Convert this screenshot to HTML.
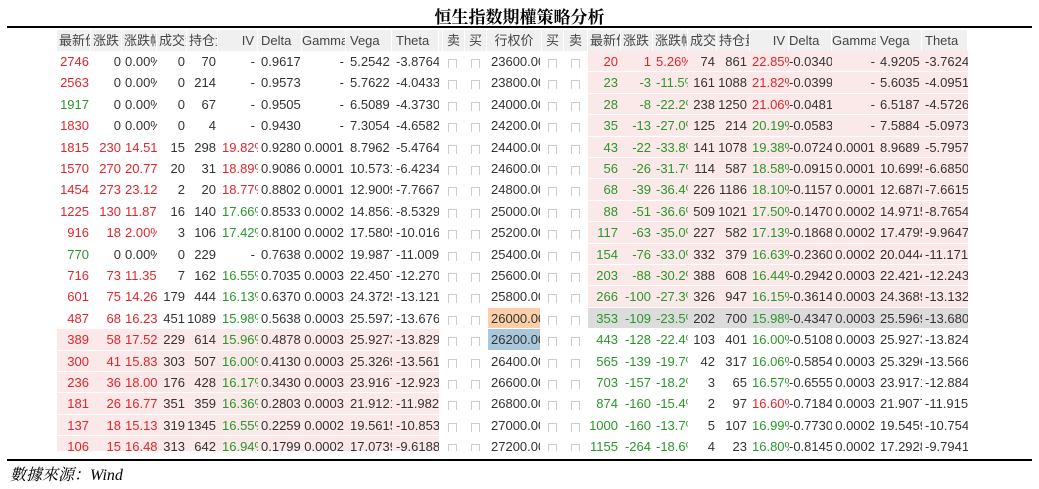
<!DOCTYPE html>
<html><head><meta charset="utf-8"><style>
body{margin:0;width:1039px;height:489px;background:#fff;position:relative;overflow:hidden;font-family:"Liberation Sans","Noto Sans CJK SC",sans-serif}
.t{position:absolute;left:0;width:1039px;top:3px;text-align:center;font-family:"Liberation Serif","Noto Serif CJK SC",serif;font-weight:bold;font-size:17px;color:#000}
.ln{position:absolute;left:7px;width:1025px;height:1.5px;background:#000}
#tb{position:absolute;left:0;top:0;width:1039px;height:451px;overflow:hidden}
.c{position:absolute;height:21.4px;line-height:21.4px;font-size:13px;white-space:nowrap;overflow:hidden;color:#333;box-sizing:border-box}
.h{position:absolute;top:30px;height:21px;line-height:21px;background:#f0f0f0;font-size:13px;color:#444;white-space:nowrap;overflow:hidden;box-sizing:border-box;border-right:1px solid #fff}
.cb{position:absolute;width:7px;height:8px;border:1px solid #ccc;border-bottom:none}
.bg{position:absolute;height:20.4px}
.ft{position:absolute;left:10px;top:462px;font-style:italic;font-size:16px;font-family:"Liberation Serif","Noto Serif CJK SC",serif;color:#000}
</style></head><body>
<div class="t">恒生指数期權策略分析</div>
<div class="ln" style="top:26px"></div>
<div id="tb"></div>
<div class="ln" style="top:459px"></div>
<div class="ft">數據來源：Wind</div>
<script>
var tb=document.getElementById('tb');
function el(cls,st,txt){var d=document.createElement('div');d.className=cls;d.style.cssText=st;if(txt!=null)d.textContent=txt;tb.appendChild(d);return d;}
var L=[[57,34,'r',2],[91,31,'r',1],[122,35,'l',3],[157,30,'r',2],[187,31,'r',2],[218,40,'l',4],[258,44,'l',3],[302,44,'r',2],[346,46,'l',4],[392,47,'l',4]];
var R=[[588,33,'r',3],[621,32,'r',2],[653,35,'l',3],[688,29,'r',2],[717,33,'r',3],[750,39,'l',2],[789,43,'l',0],[832,45,'r',2],[877,45,'l',3],[922,46,'l',3]];
var HL=['最新价','涨跌','涨跌幅','成交量','持仓量','IV','Delta','Gamma','Vega','Theta'];
function hdr(cols){cols.forEach(function(c,i){var a=c[2],p=c[3];if(i==5){a='r';p=3;}if(i<5){a='l';p=2;}
el('h','left:'+c[0]+'px;width:'+c[1]+'px;text-align:'+(a=='r'?'right':'left')+';padding-'+(a=='r'?'right':'left')+':'+p+'px',HL[i]);});}
hdr(L);hdr(R);
el('h','left:439px;width:4px');
el('h','left:443px;width:22px;text-align:center','卖');
el('h','left:465px;width:22px;text-align:center','买');
el('h','left:487px;width:55px;text-align:center','行权价');
el('h','left:542px;width:22px;text-align:center','买');
el('h','left:564px;width:24px;text-align:center','卖');
var RD='#e0262b',GN='#2a962a';
var ld=[
['2746','r','0','0.00%','0','70','-','', '0.9617','-','5.2542','-3.8764'],
['2563','r','0','0.00%','0','214','-','','0.9573','-','5.7622','-4.0433'],
['1917','g','0','0.00%','0','67','-','','0.9505','-','6.5089','-4.3730'],
['1830','r','0','0.00%','0','4','-','','0.9430','-','7.3054','-4.6582'],
['1815','r','230','14.51%','15','298','19.82%','r','0.9280','0.0001','8.7962','-5.4764'],
['1570','r','270','20.77%','20','31','18.89%','r','0.9086','0.0001','10.5731','-6.4234'],
['1454','r','273','23.12%','2','20','18.77%','r','0.8802','0.0001','12.9009','-7.7667'],
['1225','r','130','11.87%','16','140','17.66%','g','0.8533','0.0002','14.8561','-8.5329'],
['916','r','18','2.00%','3','106','17.42%','g','0.8100','0.0002','17.5805','-10.016'],
['770','g','0','0.00%','0','229','-','','0.7638','0.0002','19.9877','-11.009'],
['716','r','73','11.35%','7','162','16.55%','g','0.7035','0.0003','22.4507','-12.270'],
['601','r','75','14.26%','179','444','16.13%','g','0.6370','0.0003','24.3725','-13.121'],
['487','r','68','16.23%','451','1089','15.98%','g','0.5638','0.0003','25.5972','-13.676'],
['389','r','58','17.52%','229','614','15.96%','g','0.4878','0.0003','25.9273','-13.829'],
['300','r','41','15.83%','303','507','16.00%','g','0.4130','0.0003','25.3269','-13.561'],
['236','r','36','18.00%','176','428','16.17%','g','0.3430','0.0003','23.9167','-12.923'],
['181','r','26','16.77%','351','359','16.36%','g','0.2803','0.0003','21.9121','-11.982'],
['137','r','18','15.13%','319','1345','16.55%','g','0.2259','0.0002','19.5615','-10.853'],
['106','r','15','16.48%','313','642','16.94%','g','0.1799','0.0002','17.0739','-9.6188']];
var rd=[
['20','r','1','5.26%','74','861','22.85%','r','-0.0340','-','4.9205','-3.7624'],
['23','g','-3','-11.5%','161','1088','21.82%','r','-0.0399','-','5.6035','-4.0951'],
['28','g','-8','-22.2%','238','1250','21.06%','r','-0.0481','-','6.5187','-4.5726'],
['35','g','-13','-27.0%','125','214','20.19%','g','-0.0583','-','7.5884','-5.0973'],
['43','g','-22','-33.8%','141','1078','19.38%','g','-0.0724','0.0001','8.9689','-5.7957'],
['56','g','-26','-31.7%','114','587','18.58%','g','-0.0915','0.0001','10.6995','-6.6850'],
['68','g','-39','-36.4%','226','1186','18.10%','g','-0.1157','0.0001','12.6878','-7.6615'],
['88','g','-51','-36.6%','509','1021','17.50%','g','-0.1470','0.0002','14.9715','-8.7654'],
['117','g','-63','-35.0%','227','582','17.13%','g','-0.1868','0.0002','17.4795','-9.9647'],
['154','g','-76','-33.0%','332','379','16.63%','g','-0.2360','0.0002','20.0444','-11.171'],
['203','g','-88','-30.2%','388','608','16.44%','g','-0.2942','0.0003','22.4214','-12.243'],
['266','g','-100','-27.3%','326','947','16.15%','g','-0.3614','0.0003','24.3689','-13.132'],
['353','g','-109','-23.5%','202','700','15.98%','g','-0.4347','0.0003','25.5969','-13.680'],
['443','g','-128','-22.4%','103','401','16.00%','g','-0.5108','0.0003','25.9273','-13.824'],
['565','g','-139','-19.7%','42','317','16.06%','g','-0.5854','0.0003','25.3296','-13.566'],
['703','g','-157','-18.2%','3','65','16.57%','g','-0.6555','0.0003','23.9171','-12.884'],
['874','g','-160','-15.4%','2','97','16.60%','r','-0.7184','0.0003','21.9077','-11.915'],
['1000','g','-160','-13.7%','5','107','16.99%','g','-0.7730','0.0002','19.5459','-10.754'],
['1155','g','-264','-18.6%','4','23','16.80%','g','-0.8145','0.0002','17.2928','-9.7941']];
function col(k){return k=='r'?RD:(k=='g'?GN:'#333');}
function row(cols,d,y,bgc,x0,x1){
 el('bg','left:'+x0+'px;width:'+(x1-x0)+'px;top:'+y+'px;background:'+bgc);
 var vals=[d[0],d[2],d[3],d[4],d[5],d[6],d[8],d[9],d[10],d[11]];
 var chgc=d[2]=='0'?'#333':(d[2].charAt(0)=='-'?GN:RD);
 var cs=[col(d[1]),chgc,chgc,'#333','#333',col(d[7]),'#333','#333','#333','#333'];
 cols.forEach(function(c,i){var a=c[2],p=c[3];if(i==5&&vals[i]=='-'){a='r';p=3;}
  el('c','left:'+c[0]+'px;width:'+c[1]+'px;top:'+y+'px;color:'+cs[i]+';text-align:'+(a=='r'?'right':'left')+';padding-'+(a=='r'?'right':'left')+':'+p+'px',vals[i]);});
}
for(var i=0;i<19;i++){
 var y=51+21.4*i;
 row(L,ld[i],y,i>=13?'#fbe8e8':'#fff',57,439);
 row(R,rd[i],y,i<12?'#fbe8e8':(i==12?'#dcdcdc':'#fff'),588,968);
 var s=23600+200*i;
 var sb=i==12?'#fbd0a8':(i==13?'#a9c8dc':'#fff');
 el('bg','left:488px;width:52px;top:'+y+'px;background:'+sb);
 el('c','left:488px;width:52px;top:'+y+'px;padding-left:3px;color:#333',s+'.00');
 [448,471,548,571].forEach(function(x){el('cb','left:'+x+'px;top:'+(y+8)+'px');});
}
</script>
</body></html>
